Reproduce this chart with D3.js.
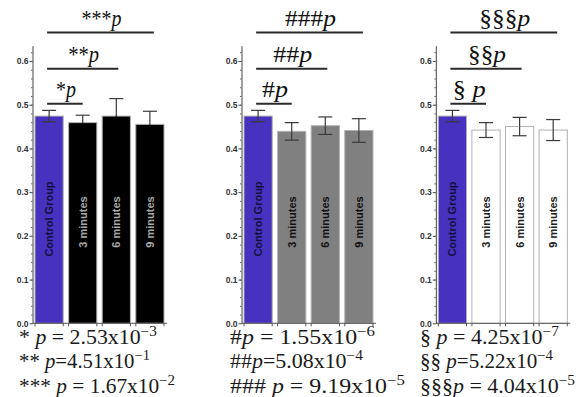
<!DOCTYPE html>
<html>
<head>
<meta charset="utf-8">
<script src="https://cdn.jsdelivr.net/npm/d3@7/dist/d3.min.js"></script>
<style>
  body { margin: 0; background: #fff; }
</style>
</head>
<body>
<svg id="chart" width="578" height="397"></svg>
<script>
// categories and values
const categories = ["Control Group", "3 minutes", "6 minutes", "9 minutes"];

const means1 = [0.474, 0.459, 0.474, 0.455];
const errors1 = [0.013, 0.017, 0.040, 0.030];

const means2 = [0.474, 0.439, 0.452, 0.441];
const errors2 = [0.013, 0.020, 0.020, 0.027];

const means3 = [0.474, 0.442, 0.450, 0.442];
const errors3 = [0.013, 0.017, 0.021, 0.024];

const yTicks = [0.0, 0.1, 0.2, 0.3, 0.4, 0.5, 0.6];
const yMinorTicks = d3.range(0.02, 0.63, 0.02);

// significance brackets: symbol, compared category, height (axis units)
const sigMarks1 = ["*", "**", "***"];
const sigMarks2 = ["#", "##", "###"];
const sigMarks3 = ["§ ", "§§", "§§§"];
const sigTargets = ["3 minutes", "6 minutes", "9 minutes"];
const sigLevels = [0.502, 0.582, 0.665];

// p-value notes: [before p, after p, exponent]
const pNotes1 = [["* ", " = 2.53x10", "−3"], ["** ", "=4.51x10", "−1"], ["*** ", " = 1.67x10", "−2"]];
const pNotes2 = [["#", " = 1.55x10", "−6"], ["##", "=5.08x10", "−4"], ["### ", " = 9.19x10", "−5"]];
const pNotes3 = [["§ ", " = 4.25x10", "−7"], ["§§ ", "=5.22x10", "−4"], ["§§§", " = 4.04x10", "−5"]];

const svg = d3.select("#chart");
const serif = "'Liberation Serif', 'DejaVu Serif', serif";
const sans = "'Liberation Sans', Arial, sans-serif";

// 0.1 on the axis is about 43.7 px
const y = d3.scaleLinear()
  .domain([0, 0.635])
  .range([323.3, 323.3 - 0.635 * 437.2]);

const panels = [
  { left: 35, means: means1, errors: errors1, fill: "#000", label: "#a8a8a8",
    marks: sigMarks1, notes: pNotes1, noteX: 19,
    noteW: [138, 131, 156], markW: [20, 31, 40] },
  { left: 244, means: means2, errors: errors2, fill: "#808080", label: "#111",
    marks: sigMarks2, notes: pNotes2, noteX: 230,
    noteW: [145, 133, 175], markW: [26, 39, 51] },
  { left: 438.3, means: means3, errors: errors3, fill: "#fff", label: "#222",
    marks: sigMarks3, notes: pNotes3, noteX: 420,
    noteW: [139, 133, 155], markW: [33, 38, 51] }
];

// stretch a text node horizontally to a given width
function fit(text, x, yy, width, anchor) {
  const w = text.node().getBBox().width;
  const s = width / w;
  const tx = anchor === "middle" ? x - width / 2 : x;
  text.attr("transform", `translate(${tx},${yy}) scale(${s},1)`);
}

function drawPanel(p) {
  const g = svg.append("g");

  const x = d3.scaleBand()
    .domain(categories)
    .range([p.left, p.left + 129])
    .paddingInner(0.16)
    .paddingOuter(0);

  const axisX = p.left - 2.5;
  const bw = x.bandwidth();
  const barFill = i => i === 0 ? "#4632be" : p.fill;

  // bars
  g.selectAll("rect.bar")
    .data(categories)
    .enter()
    .append("rect")
    .attr("class", "bar")
    .attr("x", d => x(d))
    .attr("y", (d, i) => y(p.means[i]))
    .attr("width", bw)
    .attr("height", (d, i) => y(0) - y(p.means[i]))
    .attr("fill", (d, i) => barFill(i))
    .attr("stroke", "#b0b0b0")
    .attr("stroke-width", 1);

  // error bars (the lower half disappears into black bars)
  const err = g.selectAll("g.err")
    .data(categories)
    .enter()
    .append("g")
    .attr("class", "err")
    .attr("stroke-width", 1.2);
  const lowColor = (d, i) => barFill(i) === "#000" ? "#000" : "#3a3a3a";
  err.append("line")
    .attr("stroke", "#3a3a3a")
    .attr("x1", d => x(d) + bw / 2).attr("x2", d => x(d) + bw / 2)
    .attr("y1", (d, i) => y(p.means[i]))
    .attr("y2", (d, i) => y(p.means[i] + p.errors[i]));
  err.append("line")
    .attr("stroke", "#3a3a3a")
    .attr("x1", d => x(d) + bw / 2 - 7).attr("x2", d => x(d) + bw / 2 + 7)
    .attr("y1", (d, i) => y(p.means[i] + p.errors[i]))
    .attr("y2", (d, i) => y(p.means[i] + p.errors[i]));
  err.append("line")
    .attr("stroke", lowColor)
    .attr("x1", d => x(d) + bw / 2).attr("x2", d => x(d) + bw / 2)
    .attr("y1", (d, i) => y(p.means[i] - p.errors[i]))
    .attr("y2", (d, i) => y(p.means[i]));
  err.append("line")
    .attr("stroke", lowColor)
    .attr("x1", d => x(d) + bw / 2 - 7).attr("x2", d => x(d) + bw / 2 + 7)
    .attr("y1", (d, i) => y(p.means[i] - p.errors[i]))
    .attr("y2", (d, i) => y(p.means[i] - p.errors[i]));

  // labels inside bars
  g.selectAll("text.cat")
    .data(categories)
    .enter()
    .append("text")
    .attr("class", "cat")
    .attr("transform", (d, i) => `translate(${x(d) + bw / 2},${i === 0 ? 219 : 222}) rotate(-90)`)
    .attr("dy", "0.36em")
    .attr("text-anchor", "middle")
    .attr("font-family", sans)
    .attr("font-weight", "bold")
    .attr("font-size", 11)
    .attr("fill", (d, i) => i === 0 ? "#140f3c" : p.label)
    .text(d => d);

  // y axis
  const yAxis = g.append("g")
    .attr("transform", `translate(${axisX},0)`)
    .call(d3.axisLeft(y).tickValues(yTicks).tickSize(3).tickSizeOuter(0).tickFormat(d3.format(".1f")));
  yAxis.select(".domain").attr("stroke", "#444");
  yAxis.selectAll(".tick line").attr("stroke", "#444");
  yAxis.selectAll(".tick text")
    .attr("x", -4)
    .attr("font-family", sans)
    .attr("font-weight", "bold")
    .attr("font-size", 8.5)
    .attr("fill", "#333");

  const minor = g.append("g")
    .attr("transform", `translate(${axisX},0)`)
    .call(d3.axisLeft(y).tickValues(yMinorTicks).tickSize(1.5).tickFormat(""));
  minor.select(".domain").remove();
  minor.selectAll(".tick line").attr("stroke", "#666");

  // x axis with ticks at bar edges
  const edges = categories.flatMap(d => [x(d), x(d) + bw]);
  g.append("line")
    .attr("x1", axisX).attr("x2", p.left + 132)
    .attr("y1", y(0)).attr("y2", y(0))
    .attr("stroke", "#555").attr("stroke-width", 1);
  g.selectAll("line.xt")
    .data(edges)
    .enter()
    .append("line")
    .attr("class", "xt")
    .attr("x1", d => d).attr("x2", d => d)
    .attr("y1", y(0)).attr("y2", y(0) + 3)
    .attr("stroke", "#555");

  // significance lines and labels
  const cx0 = x(categories[0]) + bw / 2 - 2;
  p.marks.forEach((m, i) => {
    const cx1 = x(sigTargets[i]) + bw / 2 + i * 2;
    const ly = y(sigLevels[i]);
    g.append("line")
      .attr("x1", cx0).attr("x2", cx1)
      .attr("y1", ly).attr("y2", ly)
      .attr("stroke", "#2a2a2a")
      .attr("stroke-width", 2);
    const t = g.append("text")
      .attr("font-family", serif)
      .attr("font-size", 23)
      .attr("fill", "#111");
    t.append("tspan").text(m);
    t.append("tspan").attr("font-style", "italic").text("p");
    fit(t, (cx0 + cx1) / 2 + 1, ly - 7, p.markW[i], "middle");
  });

  // p-value notes under the panel
  const baselines = [343.5, 368, 392.5];
  p.notes.forEach((n, i) => {
    const t = svg.append("text")
      .attr("font-family", serif)
      .attr("font-size", 20)
      .attr("fill", "#1a1a1a");
    t.append("tspan").text(n[0]);
    t.append("tspan").attr("font-style", "italic").text("p");
    t.append("tspan").text(n[1]);
    t.append("tspan").attr("font-size", 14).attr("dy", -8).text(n[2]);
    fit(t, p.noteX, baselines[i], p.noteW[i], "start");
  });
}

panels.forEach(drawPanel);
</script>
</body>
</html>
